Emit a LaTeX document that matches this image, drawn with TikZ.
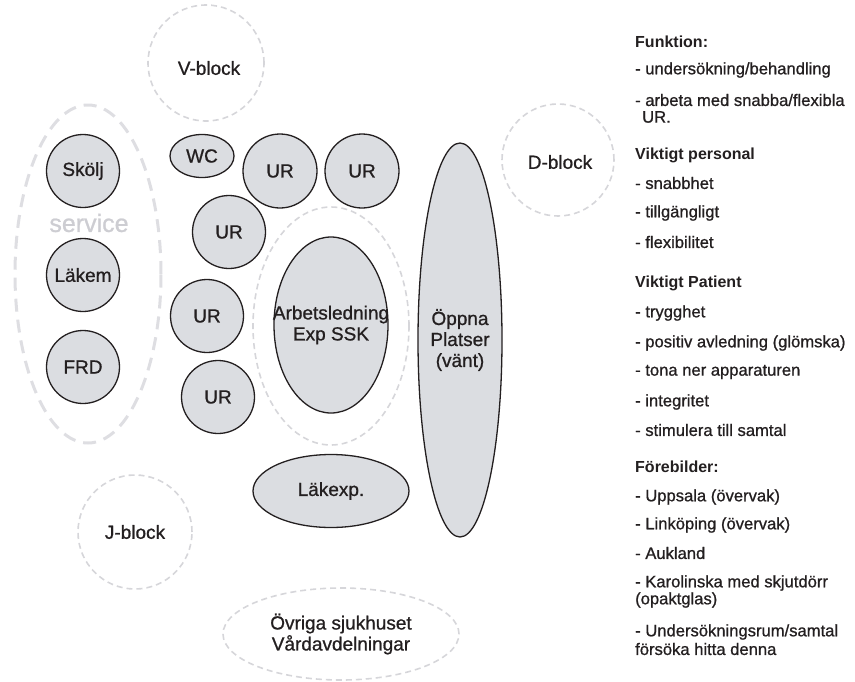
\documentclass[tikz,border=0pt]{standalone}
\usepackage{fontspec}
\setmainfont{Liberation Sans}
\newfontfamily\medfont[RawFeature={embolden=0.9}]{Liberation Sans}
\usetikzlibrary{shapes.geometric}
\definecolor{roomfill}{RGB}{219,221,225}
\definecolor{dashgray}{RGB}{214,214,218}
\definecolor{biggray}{RGB}{222,222,226}
\definecolor{ink}{RGB}{35,31,32}
\definecolor{servgray}{RGB}{205,205,210}
\tikzset{
  lbl/.style={text=ink, inner sep=0pt, font=\medfont\fontsize{19}{21}\selectfont, align=center},
  room/.style={draw=ink, line width=1.3pt, fill=roomfill, ellipse, inner sep=0pt,
    label={[lbl]center:#1}},
  zone/.style={draw=dashgray, line width=1.6pt, dash pattern=on 6pt off 4pt, ellipse, inner sep=0pt,
    label={[lbl]center:#1}},
  bigzone/.style={draw=biggray, line width=3pt, dash pattern=on 13pt off 8pt, ellipse, inner sep=0pt},
  head/.style={anchor=west, inner sep=0pt, text=ink, font=\bfseries\fontsize{16}{17}\selectfont},
  item/.style={anchor=west, inner sep=0pt, text=ink, font=\medfont\fontsize{16.6}{17}\selectfont},
}
\begin{document}
\begin{tikzpicture}[x=1pt,y=-1pt]
\useasboundingbox (0,0) rectangle (855,681);
% dashed zones
\node[zone={}, minimum width=116pt, minimum height=116pt] (vblock) at (206,63) {};
\node[lbl] (vlabel) at (209,68) {V-block};
\node[zone={}, minimum width=112pt, minimum height=112pt] (dblock) at (558,160) {};
\node[lbl] (dlabel) at (560,162) {D-block};
\node[zone=J-block, minimum width=114pt, minimum height=114pt] (jblock) at (135,532) {};
\node[zone={Övriga sjukhuset\\Vårdavdelningar}, minimum width=236pt, minimum height=92pt] (ovriga) at (341,634) {};
\node[zone={}, minimum width=156pt, minimum height=238pt] (arbzone) at (331,326) {};
\node[bigzone, minimum width=146pt, minimum height=338pt] (service) at (88,274) {};
\node[text=servgray, inner sep=0pt, font=\medfont\fontsize{25}{28}\selectfont] (servlabel) at (89,223) {service};
% rooms
\node[room=Skölj, minimum width=73pt, minimum height=73pt] (skolj) at (83,171) {};
\node[room=Läkem, minimum width=73pt, minimum height=73pt] (lakem) at (83,275) {};
\node[room=FRD, minimum width=73pt, minimum height=73pt] (frd) at (83,367) {};
\node[room=WC, minimum width=64pt, minimum height=43pt] (wc) at (202,156) {};
\node[room=UR, minimum width=74pt, minimum height=74pt] (ur1) at (280,171) {};
\node[room=UR, minimum width=74pt, minimum height=74pt] (ur2) at (362,171) {};
\node[room=UR, minimum width=73pt, minimum height=73pt] (ur3) at (229,232) {};
\node[room=UR, minimum width=73pt, minimum height=73pt] (ur4) at (207,316) {};
\node[room=UR, minimum width=73pt, minimum height=73pt] (ur5) at (218,397) {};
\node[room={Arbetsledning\\Exp SSK}, minimum width=114pt, minimum height=176pt] (arb) at (331,325) {};
\node[room=Läkexp., minimum width=156pt, minimum height=73pt] (lakexp) at (331,491) {};
\node[room={Öppna\\Platser\\(vänt)}, minimum width=84pt, minimum height=394pt] (oppna) at (460,340) {};
% right column
\node[head] (h1) at (635,42) {Funktion:};
\node[item] (t1) at (635,70) {- undersökning/behandling};
\node[item] (t2) at (635,100) {- arbeta med snabba/flexibla};
\node[item] (t2b) at (642,117) {UR.};
\node[head] (h2) at (635,155) {Viktigt personal};
\node[item] (t3) at (635,183) {- snabbhet};
\node[item] (t4) at (635,213) {- tillgängligt};
\node[item] (t5) at (635,242) {- flexibilitet};
\node[head] (h3) at (635,283) {Viktigt Patient};
\node[item] (t6) at (635,313) {- trygghet};
\node[item] (t7) at (635,343) {- positiv avledning (glömska)};
\node[item] (t8) at (635,372) {- tona ner apparaturen};
\node[item] (t9) at (635,402) {- integritet};
\node[item] (t10) at (635,430) {- stimulera till samtal};
\node[head] (h4) at (635,467) {Förebilder:};
\node[item] (t11) at (635,497) {- Uppsala (övervak)};
\node[item] (t12) at (635,525) {- Linköping (övervak)};
\node[item] (t13) at (635,553) {- Aukland};
\node[item] (t14) at (635,583) {- Karolinska med skjutdörr};
\node[item] (t14b) at (635,600) {(opaktglas)};
\node[item] (t15) at (635,632) {- Undersökningsrum/samtal};
\node[item] (t15b) at (635,649) {försöka hitta denna};
\end{tikzpicture}
\end{document}
